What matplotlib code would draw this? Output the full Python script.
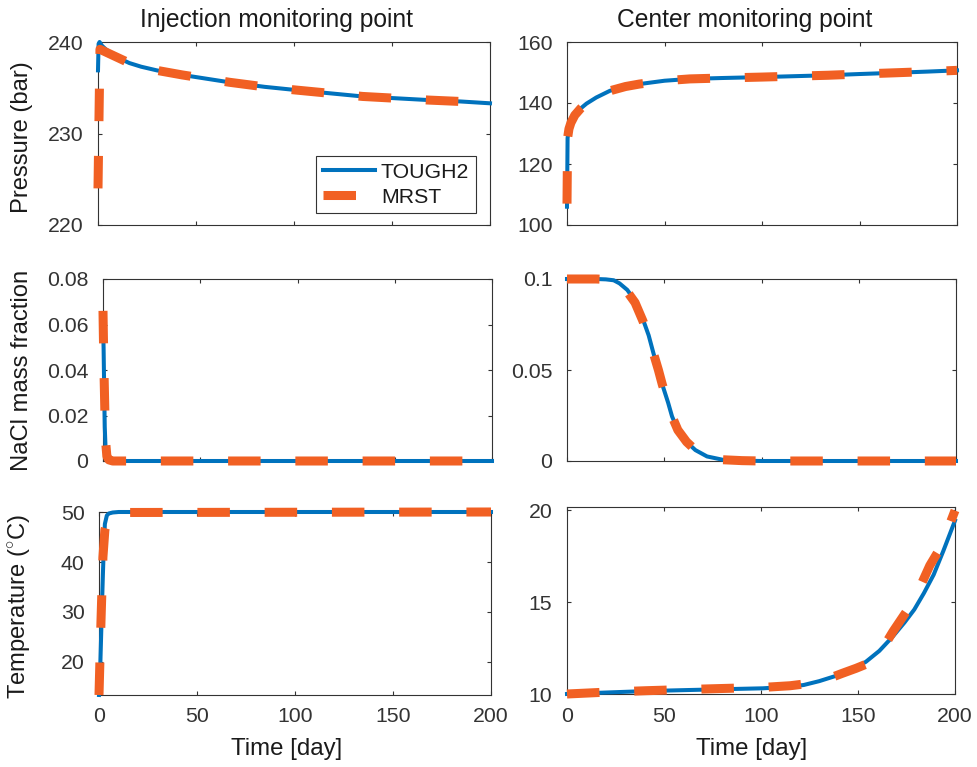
import matplotlib
matplotlib.use("Agg")
import matplotlib.pyplot as plt

plt.rcParams['font.family'] = ['Liberation Sans', 'DejaVu Sans']
plt.rcParams['mathtext.fontset'] = 'custom'
plt.rcParams['mathtext.rm'] = 'Liberation Sans'

# ---- data ----
# pressure, injection point
t_p_inj_tough = [0, 0.3, 0.8, 2, 4, 8, 12, 16, 22, 30, 43, 55, 67, 85, 101, 118, 135, 152, 169, 185, 200]
p_inj_tough = [236.9, 239.8, 240.0, 239.6, 239.2, 238.6, 238.1, 237.7, 237.3, 236.9, 236.4, 236.0,
               235.6, 235.1, 234.75, 234.4, 234.05, 233.85, 233.65, 233.5, 233.3]
t_p_inj_mrst = [0, 1, 4, 8, 12, 16, 22, 30, 43, 55, 67, 85, 101, 118, 135, 152, 169, 185, 200]
p_inj_mrst = [224.0, 239.2, 238.9, 238.5, 238.1, 237.7, 237.3, 236.9, 236.4, 236.0,
              235.6, 235.1, 234.75, 234.4, 234.05, 233.85, 233.65, 233.5, 233.3]

# pressure, center point
t_p_cen_tough = [0, 0.3, 1, 2, 4, 7, 10, 15, 22, 30, 37, 50, 63, 80, 100, 117, 134, 150, 168, 185, 200]
p_cen_tough = [106.0, 128.5, 131.5, 133.5, 136.0, 138.2, 139.8, 141.8, 144.0, 145.4, 146.2, 147.3,
               147.9, 148.2, 148.5, 148.8, 149.1, 149.5, 149.9, 150.3, 150.7]
t_p_cen_mrst = [0, 0.3, 1, 2, 4, 7, 10, 15, 22, 30, 37, 50, 63, 80, 100, 117, 134, 150, 168, 185, 200]
p_cen_mrst = [107.0, 128.5, 131.5, 133.5, 136.0, 138.2, 139.8, 141.8, 144.0, 145.4, 146.2, 147.3,
              147.9, 148.2, 148.5, 148.8, 149.1, 149.5, 149.9, 150.3, 150.7]

# NaCl mass fraction, injection point
t_s_inj_tough = [0, 0.3, 0.6, 0.9, 1.3, 1.8, 2.5, 4, 200]
s_inj_tough = [0.060, 0.050, 0.032, 0.015, 0.006, 0.002, 0.0007, 0.0, 0.0]
t_s_inj_mrst = [0, 0.2, 0.5, 1, 1.5, 2, 3, 5, 200]
s_inj_mrst = [0.066, 0.055, 0.040, 0.020, 0.007, 0.002, 0.0005, 0.0, 0.0]

# NaCl mass fraction, center point
t_s_cen_tough = [0, 10, 15, 20, 24, 27, 31, 35, 39, 42, 44.5, 47, 49, 52, 54, 57, 61.5, 66, 72, 80, 90, 100, 200]
s_cen_tough = [0.1, 0.1, 0.1, 0.0998, 0.0993, 0.0976, 0.094, 0.088, 0.078, 0.069, 0.059, 0.050,
               0.042, 0.032, 0.0245, 0.017, 0.0105, 0.006, 0.0025, 0.0007, 0.0002, 0.0, 0.0]
t_s_cen_mrst = [0, 10, 15, 20, 24, 27, 31, 35, 39, 42, 44.5, 47, 49, 52, 54, 57, 61.5, 66, 72, 80, 90, 100, 200]
s_cen_mrst = [0.1, 0.1, 0.1, 0.0998, 0.0992, 0.0975, 0.093, 0.087, 0.077, 0.068, 0.059, 0.050,
              0.042, 0.032, 0.0245, 0.017, 0.0105, 0.006, 0.0025, 0.0007, 0.0002, 0.0, 0.0]

# temperature, injection point
t_T_inj_tough = [0, 0.5, 1.0, 1.5, 2.0, 2.5, 3.0, 4.0, 5.0, 7.0, 10, 200]
T_inj_tough = [13.3, 17.0, 24.0, 31.0, 37.7, 43.5, 47.7, 49.4, 49.8, 50.0, 50.1, 50.1]
t_T_inj_mrst = [0, 1, 2, 3, 5, 8, 200]
T_inj_mrst = [13.3, 28.0, 41.0, 46.5, 49.2, 50.0, 50.1]

# temperature, center point
t_T_cen_tough = [0, 20, 41, 60, 80, 101, 115, 122, 130, 139, 146, 154, 161, 168, 174, 179, 184, 189, 194, 200]
T_cen_tough = [10.0, 10.08, 10.16, 10.21, 10.26, 10.31, 10.4, 10.49, 10.7, 11.0, 11.3, 11.75,
               12.35, 13.14, 13.9, 14.6, 15.5, 16.5, 17.8, 19.45]
t_T_cen_mrst = [0, 20, 41, 60, 80, 101, 115, 125, 135, 142, 149, 156, 162, 168, 175, 181, 187, 193, 200]
T_cen_mrst = [10.0, 10.1, 10.18, 10.24, 10.3, 10.36, 10.45, 10.58, 10.85, 11.13, 11.4, 11.7,
              12.35, 13.4, 14.5, 15.6, 17.0, 18.06, 20.0]

col_tough = '#0072BD'
col_mrst = '#F16023'
text_col = '#333333'

W, H = 977, 767
fig = plt.figure(figsize=(W / 100, H / 100), dpi=100)

def px_axes(x0, x1, y0, y1):
    return fig.add_axes([x0 / W, 1 - y1 / H, (x1 - x0) / W, (y1 - y0) / H])

panels = [
    # (x0, x1, y0, y1), tough, mrst, ylim, yticks, yticklabels
    ((98, 490, 42, 225), (t_p_inj_tough, p_inj_tough), (t_p_inj_mrst, p_inj_mrst),
     (220, 240), [220, 230, 240], ['220', '230', '240']),
    ((567, 957, 42, 225), (t_p_cen_tough, p_cen_tough), (t_p_cen_mrst, p_cen_mrst),
     (100, 160), [100, 120, 140, 160], ['100', '120', '140', '160']),
    ((103, 492, 279, 461), (t_s_inj_tough, s_inj_tough), (t_s_inj_mrst, s_inj_mrst),
     (0, 0.08), [0, 0.02, 0.04, 0.06, 0.08], ['0', '0.02', '0.04', '0.06', '0.08']),
    ((567, 956, 279, 461), (t_s_cen_tough, s_cen_tough), (t_s_cen_mrst, s_cen_mrst),
     (0, 0.1), [0, 0.05, 0.1], ['0', '0.05', '0.1']),
    ((99, 491, 512, 695), (t_T_inj_tough, T_inj_tough), (t_T_inj_mrst, T_inj_mrst),
     (13.3, 50.1), [20, 30, 40, 50], ['20', '30', '40', '50']),
    ((567, 955, 507, 694), (t_T_cen_tough, T_cen_tough), (t_T_cen_mrst, T_cen_mrst),
     (10, 20.19), [10, 15, 20], ['10', '15', '20']),
]

axes = []
for i, (box, tough, mrst, ylim, yt, ytl) in enumerate(panels):
    ax = px_axes(*box)
    ax.plot(tough[0], tough[1], color=col_tough, lw=2.9, label='TOUGH2', clip_on=False, zorder=3)
    ax.plot(mrst[0], mrst[1], color=col_mrst, lw=6.5, ls=(0, (3.6, 3.85)),
            dash_capstyle='butt', label='MRST', clip_on=False, zorder=4)
    ax.set_xlim(0, 200)
    ax.set_ylim(*ylim)
    ax.set_xticks([0, 50, 100, 150, 200])
    ax.set_yticks(yt)
    ax.set_yticklabels(ytl)
    if i < 4:
        ax.set_xticklabels([])
    ax.tick_params(direction='in', length=3, width=0.8, top=True, right=True,
                   labelsize=15.3, colors=text_col, labelcolor=text_col)
    ax.tick_params(axis='x', pad=9)
    ax.tick_params(axis='y', pad=10.5)
    for s in ax.spines.values():
        s.set_color(text_col)
        s.set_linewidth(0.8)
    axes.append(ax)

leg = axes[0].legend(loc='lower right', bbox_to_anchor=(0.9635, 0.064), fontsize=15.3,
                     handlelength=2.45, handletextpad=0.3, labelspacing=0.3,
                     borderpad=0.3, borderaxespad=0, fancybox=False, framealpha=1)
leg.get_frame().set_edgecolor(text_col)
leg.get_frame().set_linewidth(0.8)
for t in leg.get_texts():
    t.set_color('#1a1a1a')

title_kw = dict(fontsize=17.7, color='#1a1a1a', ha='center', va='baseline')
fig.text(276.5 / W, 1 - 27 / H, 'Injection monitoring point', **title_kw)
fig.text(745 / W, 1 - 27 / H, 'Center monitoring point', **title_kw)

xlab_kw = dict(fontsize=17.3, color='#1a1a1a', ha='center', va='baseline')
fig.text(286.7 / W, 1 - 755 / H, 'Time [day]', **xlab_kw)
fig.text(751.7 / W, 1 - 755 / H, 'Time [day]', **xlab_kw)

ylab_kw = dict(fontsize=17.1, color='#1a1a1a', ha='center', va='center', rotation=90)
fig.text(21.7 / W, 1 - 137.5 / H, 'Pressure (bar)', **ylab_kw)
fig.text(21.7 / W, 1 - 370.5 / H, 'NaCl mass fraction', **ylab_kw)
fig.text(20.5 / W, 1 - 606.7 / H, r'Temperature ($^{\circ}$C)', **ylab_kw)

fig.savefig('out.png', dpi=100)
